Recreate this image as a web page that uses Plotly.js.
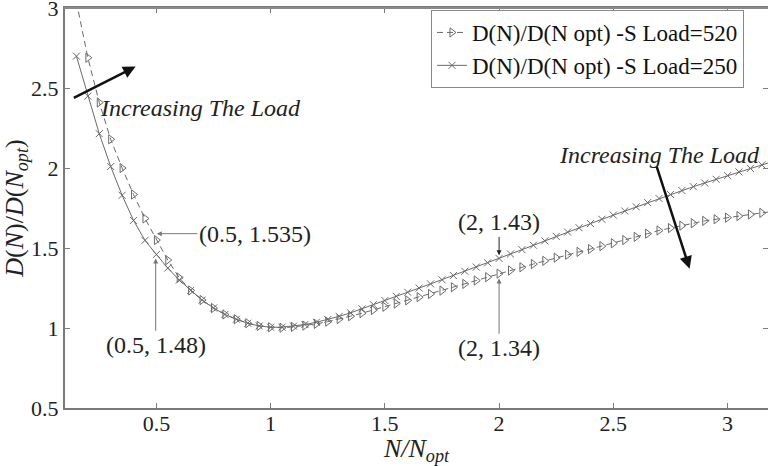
<!DOCTYPE html>
<html>
<head>
<meta charset="utf-8">
<script src="https://cdn.plot.ly/plotly-3.0.1.min.js"></script>
<style>
html,body{margin:0;padding:0;overflow:hidden;background:#fff;}
#wrap{position:relative;width:768px;height:466px;}
#chart{width:768px;height:466px;}
#topframe{position:absolute;left:64px;top:7px;width:704px;height:0;border-top:2px solid #8a8a8a;pointer-events:none;z-index:10;}
</style>
</head>
<body>
<div id="wrap">
<div id="chart"></div>
<div id="topframe"></div>
</div>
<script>
// N/Nopt sample points (shared by both series)
const ratio = [0.15,0.20,0.25,0.30,0.35,0.40,0.45,0.50,0.55,0.60,0.65,0.70,0.75,0.80,0.85,0.90,0.95,1.00,
  1.05,1.10,1.15,1.20,1.25,1.30,1.35,1.40,1.45,1.50,1.55,1.60,1.65,1.70,1.75,1.80,1.85,1.90,1.95,2.00,
  2.05,2.10,2.15,2.20,2.25,2.30,2.35,2.40,2.45,2.50,2.55,2.60,2.65,2.70,2.75,2.80,2.85,2.90,2.95,3.00,
  3.05,3.10,3.15,3.20];

// D(N)/D(Nopt), S Load = 520
const load520 = [3.04,2.69,2.41,2.18,2.0,1.835,1.685,1.55,1.425,1.315,1.235,1.175,1.125,1.085,1.055,1.03,1.013,1.005,
  1.002,1.007,1.015,1.026,1.04,1.056,1.074,1.093,1.113,1.133,1.153,1.173,1.193,1.213,1.234,1.255,1.276,1.297,1.318,1.34,
  1.36,1.38,1.40,1.42,1.44,1.458,1.476,1.494,1.512,1.53,1.55,1.57,1.59,1.61,1.625,1.64,1.655,1.67,1.68,1.69,
  1.70,1.71,1.72,1.73];

// D(N)/D(Nopt), S Load = 250
const load250 = [2.70,2.45,2.215,2.01,1.83,1.673,1.548,1.46,1.375,1.30,1.235,1.175,1.125,1.085,1.055,1.03,1.013,1.005,
  1.005,1.012,1.022,1.036,1.053,1.073,1.095,1.12,1.146,1.172,1.198,1.224,1.25,1.276,1.302,1.328,1.355,1.381,1.408,1.435,
  1.463,1.49,1.518,1.545,1.573,1.60,1.627,1.653,1.68,1.706,1.732,1.758,1.784,1.81,1.835,1.86,1.884,1.907,1.93,1.953,
  1.976,1.998,2.02,2.042];

const seriesNames = ['D(N)/D(N opt) -S Load=520', 'D(N)/D(N opt) -S Load=250'];
const xTicks = [0.5,1,1.5,2,2.5,3];
const yTicks = [0.5,1,1.5,2,2.5,3];
const xRange = [0.1, 3.177];
const yRange = [0.5, 3.001];

const serif = '"Liberation Serif", "Times New Roman", serif';
const frameGray = '#7a7a7a';

const traces = [
  {
    x: ratio, y: load520, name: seriesNames[0], type: 'scatter', mode: 'lines+markers',
    line: {color: '#6a6a6a', width: 1, dash: '6px,4px'},
    marker: {symbol: 'triangle-right-open', size: 8, color: '#6a6a6a', line: {width: 1, color: '#6a6a6a'}}
  },
  {
    x: ratio, y: load250, name: seriesNames[1], type: 'scatter', mode: 'lines+markers',
    line: {color: '#6a6a6a', width: 1},
    marker: {symbol: 'x-thin-open', size: 7, color: '#6a6a6a', line: {width: 1, color: '#6a6a6a'}}
  }
];

const axisCommon = {
  showgrid: false, zeroline: false, showline: true, linecolor: frameGray, linewidth: 2,
  mirror: 'allticks', ticks: 'inside', ticklen: 5, tickcolor: frameGray, tickwidth: 1,
  ticklabeloverflow: 'allow',
  tickfont: {family: serif, size: 22, color: '#222'}
};

const arrowGray = '#777';
const annFont = {family: serif, size: 24, color: '#222'};
const layout = {
  width: 768, height: 466,
  margin: {l: 65, r: 0, t: 8, b: 58},
  paper_bgcolor: '#fff', plot_bgcolor: '#fff',
  showlegend: true,
  legend: {
    x: 0.5206, xanchor: 'left', y: 0.995, yanchor: 'top',
    bgcolor: '#fff', bordercolor: '#888', borderwidth: 1,
    font: {family: serif, size: 23, color: '#111'}
  },
  xaxis: Object.assign({}, axisCommon, {
    range: xRange, tickvals: xTicks, ticktext: xTicks.map(String), ticklabelstandoff: -5,
    title: {text: '<i>N/N<sub>opt</sub></i>', font: {family: serif, size: 26, color: '#222'}, standoff: 6}
  }),
  yaxis: Object.assign({}, axisCommon, {
    range: yRange, tickvals: yTicks, ticktext: yTicks.map(String),
    title: {text: '<i>D</i>(<i>N</i>)/<i>D</i>(<i>N<sub>opt</sub></i>)', font: {family: serif, size: 26, color: '#222'}, standoff: 8}
  }),
  xaxis2: {overlaying: 'x', side: 'top', anchor: 'y', range: xRange, tickvals: xTicks, showticklabels: false,
    showline: true, linecolor: frameGray, linewidth: 2, ticks: 'inside', ticklen: 5, tickcolor: frameGray,
    showgrid: false, zeroline: false},
  yaxis2: {overlaying: 'y', side: 'right', anchor: 'x', range: yRange, tickvals: yTicks, showticklabels: false,
    showline: true, linecolor: frameGray, linewidth: 2, ticks: 'inside', ticklen: 5, tickcolor: frameGray,
    showgrid: false, zeroline: false},
  annotations: [
    {x: 0.409, y: 2.635, ax: 0.132, ay: 2.434, axref: 'x', ayref: 'y', xref: 'x', yref: 'y',
     text: '', showarrow: true, arrowhead: 2, arrowsize: 1, arrowwidth: 2.5, arrowcolor: '#111'},
    {x: 0.692, y: 2.373, xref: 'x', yref: 'y', text: '<i>Increasing The Load</i>', showarrow: false, font: annFont},
    {x: 2.70, y: 2.079, xref: 'x', yref: 'y', text: '<i>Increasing The Load</i>', showarrow: false, font: annFont},
    {x: 2.834, y: 1.371, ax: 2.688, ay: 2.017, axref: 'x', ayref: 'y', xref: 'x', yref: 'y',
     text: '', showarrow: true, arrowhead: 2, arrowsize: 1, arrowwidth: 2.5, arrowcolor: '#111'},
    {x: 0.502, y: 1.59, ax: 0.931, ay: 1.59, axref: 'x', ayref: 'y', xref: 'x', yref: 'y',
     text: '(0.5, 1.535)', font: annFont, showarrow: true, arrowhead: 2, arrowsize: 1, arrowwidth: 1, arrowcolor: arrowGray, standoff: 0},
    {x: 0.497, y: 1.434, ax: 0.497, ay: 0.892, axref: 'x', ayref: 'y', xref: 'x', yref: 'y',
     text: '(0.5, 1.48)', font: annFont, showarrow: true, arrowhead: 2, arrowsize: 1, arrowwidth: 1, arrowcolor: arrowGray, standoff: 0},
    {x: 2.0, y: 1.455, ax: 2.0, ay: 1.66, axref: 'x', ayref: 'y', xref: 'x', yref: 'y',
     text: '(2, 1.43)', font: annFont, showarrow: true, arrowhead: 2, arrowsize: 1, arrowwidth: 1, arrowcolor: '#222', standoff: 0},
    {x: 2.0, y: 1.31, ax: 2.0, ay: 0.873, axref: 'x', ayref: 'y', xref: 'x', yref: 'y',
     text: '(2, 1.34)', font: annFont, showarrow: true, arrowhead: 2, arrowsize: 1, arrowwidth: 1, arrowcolor: arrowGray, standoff: 0}
  ]
};

Plotly.newPlot('chart', traces, layout, {displayModeBar: false, staticPlot: true});
</script>
</body>
</html>
